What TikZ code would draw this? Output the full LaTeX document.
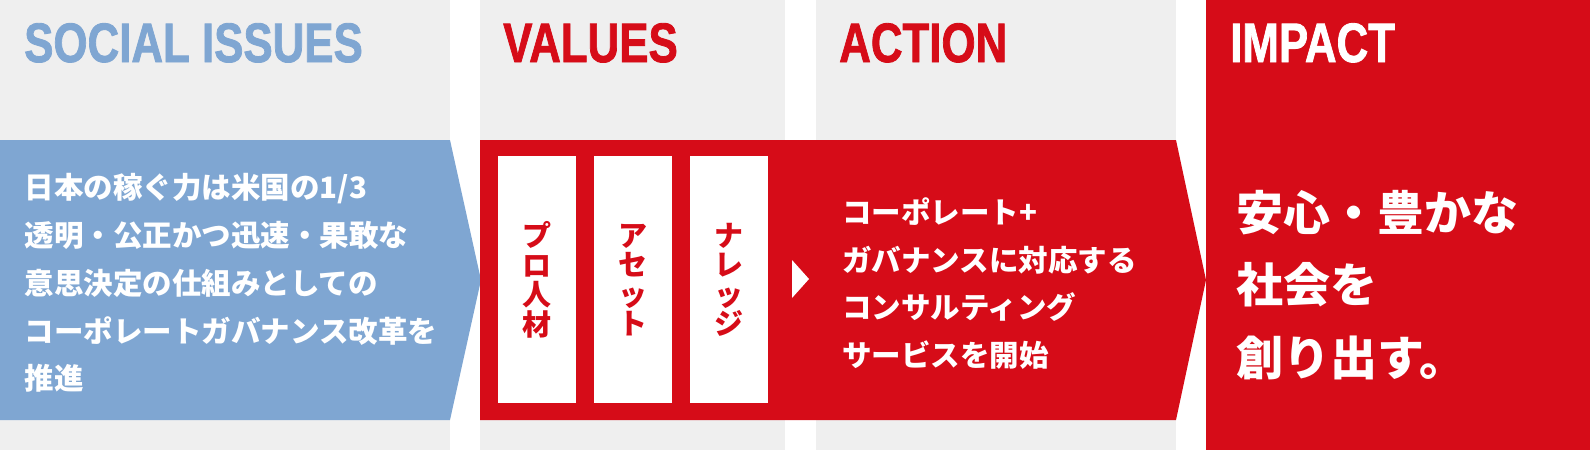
\documentclass[tikz,border=0pt]{standalone}
\usepackage{fontspec}
\usepackage{graphicx}
\setmainfont{Liberation Sans}
\newfontfamily\titlefont{Liberation Sans}[FakeBold=1.6]
\newfontfamily\jp{Noto Sans CJK JP}
\definecolor{bggray}{HTML}{EFEFEF}
\definecolor{sblue}{HTML}{7FA6D2}
\definecolor{cred}{HTML}{D60C18}
\tikzset{
  title/.style={anchor=base west, inner sep=0pt, font=\titlefont\bfseries\fontsize{55.5}{55.5}\selectfont},
  bodytxt/.style={anchor=base west, inner sep=0pt, text=white, font=\jp\bfseries\fontsize{29.5}{29.5}\selectfont},
  bigtxt/.style={anchor=base west, inner sep=0pt, text=white, font=\jp\bfseries\fontsize{47}{47}\selectfont},
  vlabel/.style={align=center, inner sep=0pt, text=cred, font=\jp\bfseries\fontsize{29}{29.5}\selectfont},
  whitebox/.style={fill=white, draw=none},
}
\begin{document}
\begin{tikzpicture}[x=1pt,y=-1pt]
\useasboundingbox (0,0) rectangle (1590,450);
% columns
\fill[bggray] (0,0) rectangle (450,450);
\fill[bggray] (480,0) rectangle (785,450);
\fill[bggray] (816,0) rectangle (1176,450);
\fill[cred] (1206,0) rectangle (1590,450);
% bands
\fill[sblue] (0,140) -- (450,140) -- (481,280) -- (450,420) -- (0,420) -- cycle;
\fill[cred] (480,140) -- (1176,140) -- (1206,280) -- (1176,420) -- (480,420) -- cycle;
% white boxes
\fill[whitebox] (498,156) rectangle (576,403);
\fill[whitebox] (594,156) rectangle (672,403);
\fill[whitebox] (690,156) rectangle (768,403);
% small triangle
\fill[white] (792,260) -- (809,279) -- (792,298) -- cycle;
% titles
\node[title, text=sblue] (t1) at (24,62) {\scalebox{0.79}[1]{SOCIAL ISSUES}};
\node[title, text=cred] (t2) at (503,62) {\scalebox{0.79}[1]{VALUES}};
\node[title, text=cred] (t3) at (839,62) {\scalebox{0.79}[1]{ACTION}};
\node[title, text=white] (t4) at (1230,62) {\scalebox{0.79}[1]{IMPACT}};
% social issues text
\node[bodytxt] (s1) at (24.5,198) {日本の稼ぐ力は米国の1/3};
\node[bodytxt] (s2) at (24.5,246) {透明・公正かつ迅速・果敢な};
\node[bodytxt] (s3) at (24.5,294) {意思決定の仕組みとしての};
\node[bodytxt] (s4) at (24.5,342) {コーポレートガバナンス改革を};
\node[bodytxt] (s5) at (24.5,389) {推進};
% values labels
\node[vlabel] (v1) at (537,280) {プ\\ロ\\人\\材};
\node[vlabel] (v2) at (633,280) {ア\\セ\\ッ\\ト};
\node[vlabel] (v3) at (729,280) {ナ\\レ\\ッ\\ジ};
% action text
\node[bodytxt] (a1) at (842,223) {コーポレート+};
\node[bodytxt] (a2) at (842,271) {ガバナンスに対応する};
\node[bodytxt] (a3) at (842,318) {コンサルティング};
\node[bodytxt] (a4) at (842,366) {サービスを開始};
% impact text
\node[bigtxt] (i1) at (1236,230) {安心・豊かな};
\node[bigtxt] (i2) at (1236,302) {社会を};
\node[bigtxt] (i3) at (1236,375) {創り出す。};
\end{tikzpicture}
\end{document}
